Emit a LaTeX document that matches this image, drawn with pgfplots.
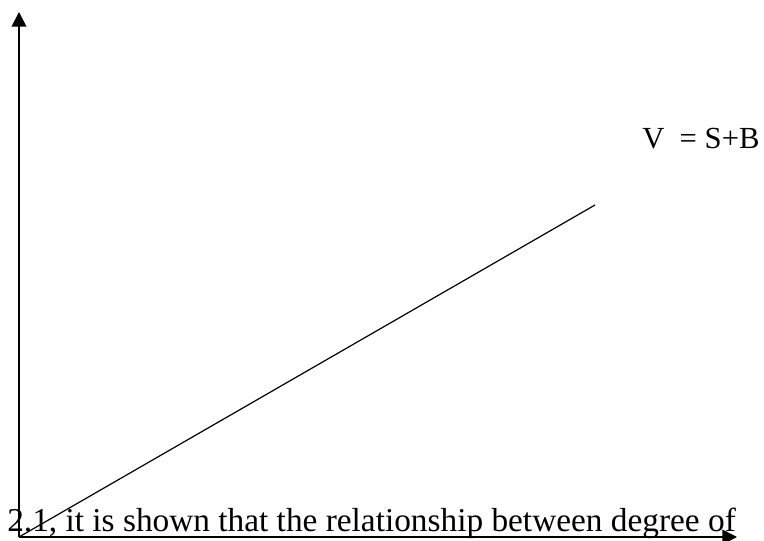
\documentclass[border=0pt]{standalone}
\usepackage{pgfplots}
\pgfplotsset{compat=1.18}
\usepackage{fontspec}
\setmainfont{Liberation Serif}
\usetikzlibrary{arrows.meta}
\begin{document}
\begin{tikzpicture}
\clip (0,0) rectangle (573pt,405pt);
\useasboundingbox (0,0) rectangle (573pt,405pt);
\begin{axis}[
  at={(14.25pt,2.25pt)}, anchor=origin,
  scale only axis, width=538.5pt, height=393.75pt,
  xmin=0, xmax=718, ymin=0, ymax=525,
  axis lines=left,
  axis line style={line width=1.3pt, -{Triangle[length=11pt,width=11pt]}},
  xtick=\empty, ytick=\empty,
  clip=false,
]
\addplot[black, line width=0.9pt] coordinates {(0,0) (576,332)};
\node[anchor=base west, inner sep=0pt, font=\fontsize{23pt}{26pt}\selectfont] at (axis cs:623,388) {V \ = S+B};
\node[anchor=base west, inner sep=0pt, font=\fontsize{25pt}{28pt}\selectfont] at (axis cs:-12,5.5) {2.1, it is shown that the relationship between degree of};
\end{axis}
\end{tikzpicture}
\end{document}
